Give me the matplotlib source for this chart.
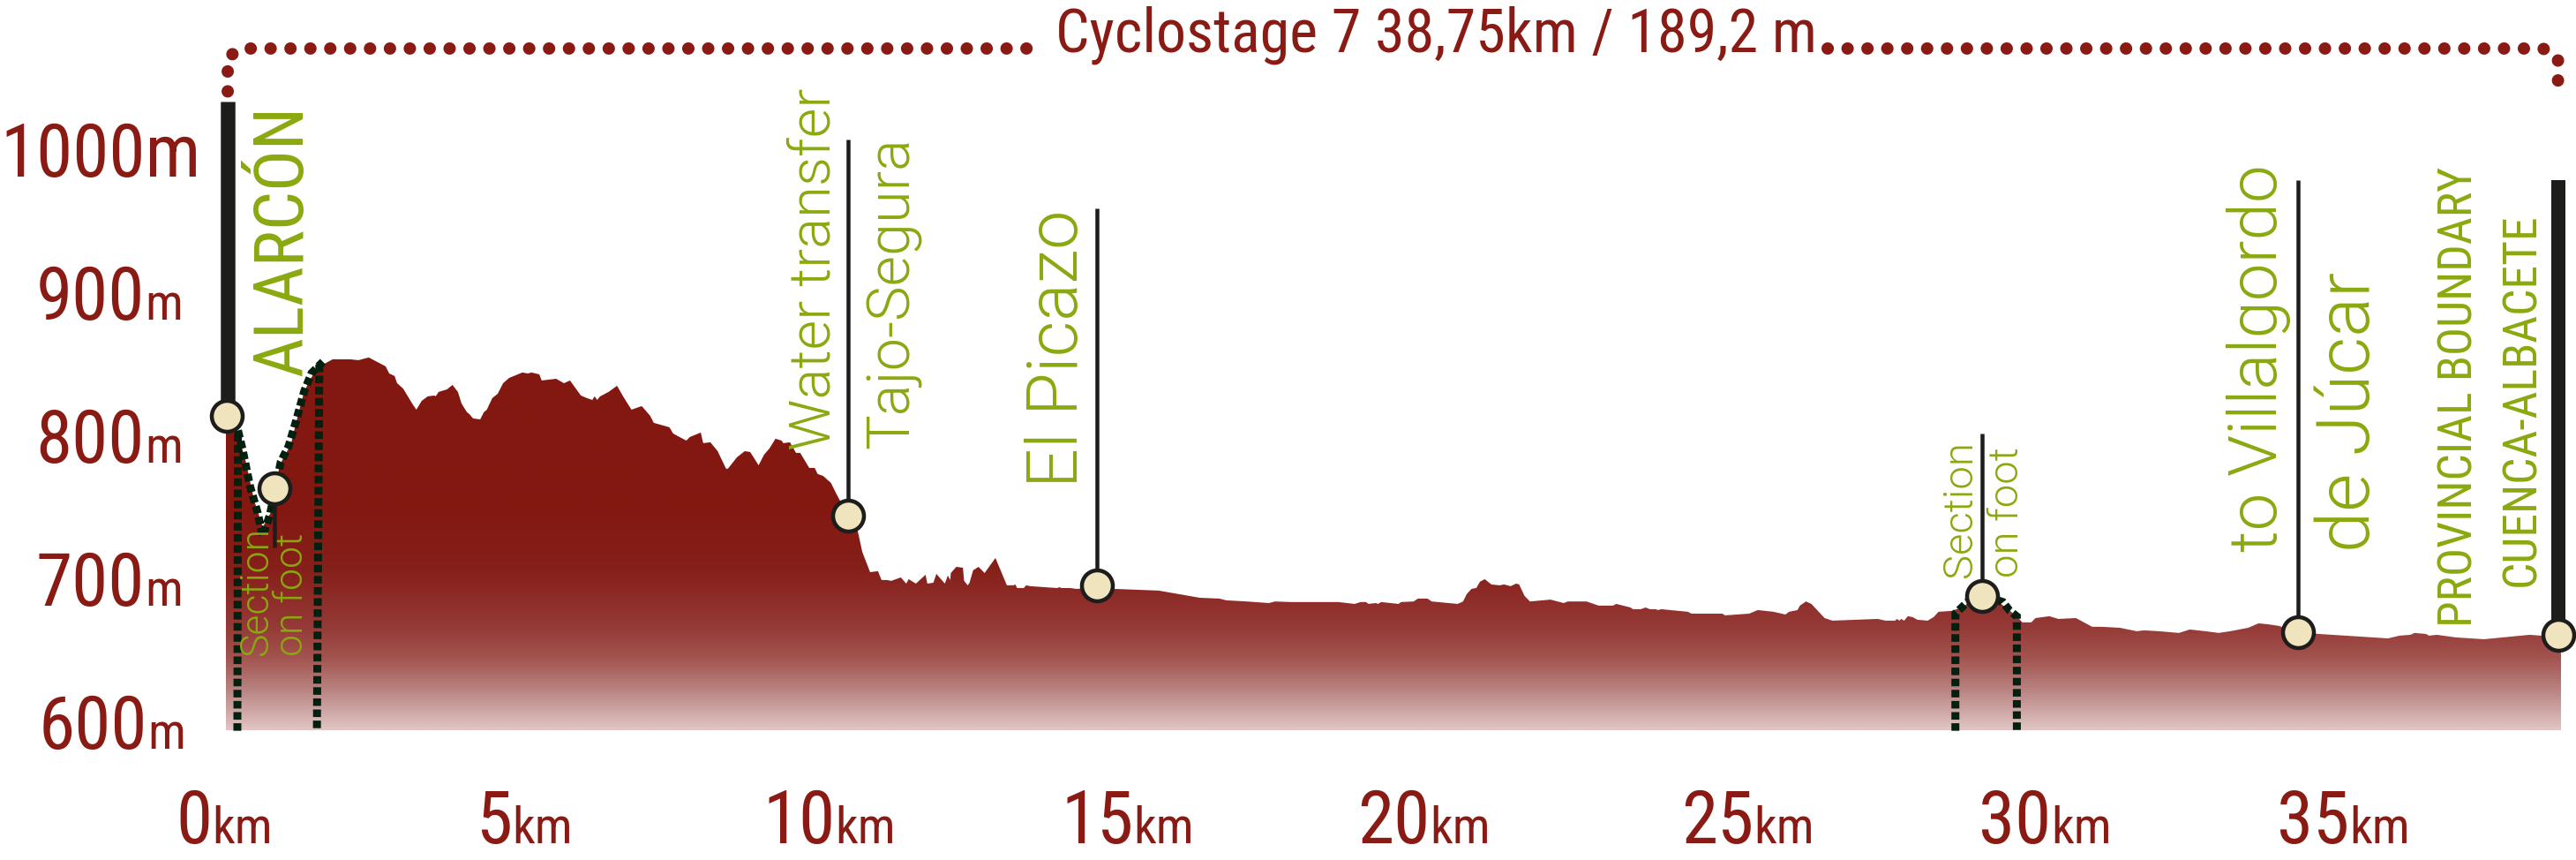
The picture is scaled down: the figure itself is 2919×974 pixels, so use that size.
import matplotlib
matplotlib.use("Agg")
import matplotlib.pyplot as plt
import numpy as np
from matplotlib.colors import LinearSegmentedColormap

W, H = 2919, 974
DPI = 100
PX = 72 / DPI  # points per pixel

# ---- data ----
profile_km = [0, .19, .32, .47, .61, .75, .89, 1.08, 1.16, 1.30, 1.48, 1.61, 1.77, 2.06, 2.20, 2.37, 2.65, 2.71, 2.80, 2.84,
              2.94, 3.10, 3.16, 3.25, 3.35, 3.46, 3.48, 3.53, 3.67, 3.76, 3.85, 3.91, 4.00, 4.04, 4.10, 4.22, 4.28, 4.33, 4.42, 4.51,
              4.60, 4.70, 4.92, 5.01, 5.07, 5.20, 5.24, 5.48, 5.61, 5.71, 5.89, 5.99, 6.08, 6.12, 6.16, 6.21, 6.35, 6.49, 6.60, 6.73,
              6.90, 7.04, 7.10, 7.36, 7.42, 7.50, 7.64, 7.70, 7.88, 7.92, 8.04, 8.16, 8.30, 8.33, 8.48, 8.61, 8.70, 8.84, 8.93, 9.02,
              9.12, 9.22, 9.25, 9.36, 9.46, 9.53, 9.68, 9.77, 9.82, 9.91, 10.04, 10.12, 10.32, 10.48, 10.56, 10.69, 10.82, 10.88, 10.97, 11.04,
              11.20, 11.29, 11.33, 11.45, 11.61, 11.64, 11.74, 11.79, 11.93, 11.98, 12.02, 12.03, 12.12, 12.23, 12.25, 12.31, 12.34, 12.40, 12.49, 12.59,
              12.77, 12.96, 13.07, 13.10, 13.13, 13.24, 13.28, 13.35, 13.79, 13.84, 13.86, 14.01, 14.11, 14.45, 14.74, 15.48, 16.16, 16.49, 16.60, 16.94,
              17.31, 17.41, 17.67, 18.46, 18.73, 18.83, 18.92, 18.96, 19.08, 19.12, 19.17, 19.46, 19.50, 19.71, 19.78, 19.94, 20.01, 20.44, 20.53, 20.59,
              20.67, 20.75, 20.81, 20.89, 21.00, 21.14, 21.21, 21.32, 21.41, 21.46, 21.55, 21.64, 21.98, 22.20, 22.27, 22.58, 22.78, 23.02, 23.07, 23.31,
              23.35, 23.48, 23.56, 23.63, 23.73, 23.76, 23.82, 24.26, 24.32, 24.83, 24.88, 25.28, 25.42, 25.68, 25.88, 25.94, 26.08, 26.12, 26.22, 26.31,
              26.53, 26.66, 27.41, 27.54, 27.70, 27.73, 27.77, 27.80, 27.85, 27.91, 27.99, 28.07, 28.24, 28.34, 28.42, 28.64, 28.80, 29.15, 29.44, 29.72,
              29.81, 29.96, 30.03, 30.26, 30.41, 30.70, 30.97, 31.13, 31.43, 31.71, 31.83, 32.08, 32.41, 32.59, 32.85, 33.07, 33.26, 33.56, 33.73, 33.88,
              34.07, 34.38, 34.73, 35.88, 36.07, 36.25, 36.32, 36.51, 36.56, 36.69, 37.00, 37.47, 38.23, 38.42, 38.75]
profile_m = [814.2, 802.5, 784, 754.9, 736.4, 746.9, 779.6, 794.5, 808.7, 831.5, 845.7, 850, 853.7, 853.7, 853.1, 855, 848.8, 843.8, 842, 837,
             833.3, 822.2, 818.5, 824.7, 827.8, 828.4, 827.8, 830.9, 832.7, 835.8, 830.9, 822.8, 816.7, 815.4, 812.4, 811.7, 816.7, 818.5, 826.6, 829.6,
             837, 840.7, 844.5, 843.8, 844.5, 843.2, 838.9, 840.1, 837, 838.9, 828.4, 826.6, 825.3, 827.8, 825.3, 827.8, 830.9, 835.2, 827.2, 818.5,
             821, 814.2, 809.3, 806.2, 801.9, 800, 796.9, 799.4, 802.5, 795.1, 795.7, 789.5, 777.2, 777.2, 785.2, 789.5, 788.9, 779.6, 787, 791.4,
             798.2, 796.9, 795.1, 795.7, 788.3, 788.3, 777.8, 777.8, 773.5, 772.2, 767.3, 760.5, 744.5, 734.6, 719.1, 704.9, 705.6, 699.4, 699.4, 698.8,
             701.2, 696.9, 700, 696.9, 703.1, 696.9, 697.5, 703.7, 696.9, 702.5, 699.4, 704.3, 708.6, 708, 698.8, 695.7, 697.5, 706.2, 708.6, 704.3,
             714.8, 695.7, 695.7, 696.3, 693.8, 693.8, 695.7, 695.1, 693.8, 694.4, 693.8, 693.8, 693.2, 694, 693.2, 692, 687, 686.4, 685.2, 684.4,
             683.3, 684.4, 684, 684, 682.7, 684, 684, 682.7, 683.3, 682.7, 684, 682.7, 684, 684.4, 686.4, 686.4, 684.4, 682.7, 684.4, 689.5,
             693.2, 693.8, 698.2, 700, 696.3, 695.7, 696.3, 695.1, 696.9, 696.3, 688.3, 684.4, 685.7, 683.3, 684.4, 684.4, 681.5, 681.5, 682.7, 680.2,
             679, 679, 680.2, 679, 679, 678.4, 679, 677.2, 675.9, 675.9, 674.7, 675.9, 678.4, 677.2, 675.3, 677.2, 678.4, 681.5, 684.4, 682.7,
             672.8, 671, 672.2, 671, 671, 672.2, 671, 672.2, 671, 674.1, 673.5, 671.6, 671, 673.5, 677.2, 677.8, 680.2, 689.5, 683.3, 674.1,
             669.8, 669.8, 672.8, 674.1, 672.2, 672.8, 666.7, 666.7, 666, 663.6, 664.2, 663.6, 662.4, 664.8, 663.6, 662.4, 663.6, 666, 669.1, 668.5,
             667.3, 663, 661.7, 658.6, 660.5, 661.1, 662.4, 661.7, 660.5, 661.1, 659.3, 658, 661.1, 660.5, 660]

stop_km = [0.01, 0.81, 10.32, 14.45, 29.15, 34.38, 38.70]
stop_m = [814, 763.6, 744.5, 695.7, 688.3, 663, 661.1]
stop_line_km = [0.03, 0.81, 10.32, 14.45, 29.15, 34.38, 38.70]
stop_line_end_m = [1034, 722, 1007.4, 959.3, 801.9, 979, 979]
stop_line_px = [16.5, 4.5, 4.5, 4.5, 4.5, 4.5, 16]

foot1_km = [0.19, 0.20, 0.28, 0.40, 0.53, 0.61, 0.73, 0.91, 1.04, 1.16, 1.30, 1.42, 1.61]
foot1_m = [594, 804, 790, 765, 746, 730, 745, 782, 793, 810, 831.5, 844, 852]
foot1b_km = [1.55, 1.51]
foot1b_m = [850, 594]
foot2_km = [28.70, 28.70, 28.80, 29.05, 29.49, 29.60, 29.72, 29.72]
foot2_m = [594, 676, 680, 690, 684, 678, 674, 594]

bracket_left_km = [0.03, 0.03, 0.26, 13.40]
bracket_right_km = [26.58, 38.45, 38.70, 38.70]
bracket_left_m = [1041, 1065, 1071, 1071]
bracket_right_m = [1071, 1071, 1065, 1041]

title = "Cyclostage 7 38,75km / 189,2 m"
xtick_values = ["0", "5", "10", "15", "20", "25", "30", "35"]
xtick_label_km = [-0.03, 4.95, 10.01, 14.96, 19.88, 25.26, 30.19, 35.14]
ytick_values = [600, 700, 800, 900, 1000]
ytick_units_big = [False, False, False, False, True]
ytick_label_km = [-1.89, -1.94, -1.94, -1.94, -2.08]

grad_m = [594.4, 623.5, 644, 665, 683, 705.6, 750, 1072]
grad_c = ["#e0c3c3", "#b67f7d", "#a35450", "#953b38", "#8f2e2a", "#86201a", "#831811", "#831811"]

RED = "#8a1a14"
GREEN = "#8aa80f"
BLACK = "#1d1d1b"
CREAM = "#f0e4bf"
DARKG = "#02200f"

NARROW = ["Roboto Condensed", "Liberation Sans"]
LIGHT = ["Roboto", "Liberation Sans"]

fig = plt.figure(figsize=(W / DPI, H / DPI), dpi=DPI, facecolor="white")
left, right, bottom_y, top_y = 256, 2902, 827, 53
ax = fig.add_axes([left / W, 1 - bottom_y / H, (right - left) / W, (bottom_y - top_y) / H])
ax.set_xlim(0, 38.75)
ax.set_ylim(594.4, 1072.2)
ax.axis("off")

# area with vertical gradient
lo, hi = grad_m[0], grad_m[-1]
pos = [(g - lo) / (hi - lo) for g in grad_m]
cmap = LinearSegmentedColormap.from_list("elev", list(zip(pos, grad_c)))
poly = ax.fill_between(profile_km, profile_m, lo, color="none", lw=0, zorder=1)
im = ax.imshow(np.linspace(0, 1, 800)[:, None], origin="lower", extent=[0, 38.75, lo, hi],
               cmap=cmap, aspect="auto", zorder=1, vmin=0, vmax=1)
im.set_clip_path(poly.get_paths()[0], ax.transData)
ax.set_xlim(0, 38.75)
ax.set_ylim(594.4, 1072.2)

# on-foot sections
dash = dict(color=DARKG, lw=9 * PX, ls=(0, (0.95, 0.45)), dash_capstyle="butt", dash_joinstyle="miter", zorder=2, clip_on=False)
ax.plot(foot1_km, foot1_m, **dash)
ax.plot(foot1b_km, foot1b_m, **dash)
ax.plot(foot2_km, foot2_m, **dash)

# stops
for k, m, kl, e, w in zip(stop_km, stop_m, stop_line_km, stop_line_end_m, stop_line_px):
    ax.plot([kl, kl], [m, e], color=BLACK, lw=w * PX, solid_capstyle="butt", zorder=4, clip_on=False)
ax.plot(stop_km, stop_m, ls="none", marker="o", ms=35 * PX, mfc=CREAM, mec=BLACK, mew=4.5 * PX, zorder=5, clip_on=False)

# bracket
dots = dict(color=RED, lw=14 * PX, ls=(0, (0.01, 1.6)), dash_capstyle="round", zorder=2, clip_on=False)
ax.plot(bracket_left_km, bracket_left_m, **dots)
ax.plot(bracket_right_km, bracket_right_m, **dots)

def px_x(px):
    return (px - left) / (right - left) * 38.75

def px_y(py):
    return 594.4 + (bottom_y - py) / (bottom_y - top_y) * (1072.2 - 594.4)

ax.text(px_x(1627), px_y(59), title, color=RED, family=NARROW, fontsize=49, ha="center", va="baseline", clip_on=False)

renderer = fig.canvas.get_renderer()

def mixed(xkm, ym, big, small, dy_px, big_fs=60, small_fs=41):
    bt = ax.annotate(big, (xkm, ym), xytext=(0, dy_px * PX), textcoords="offset points", color=RED, family=NARROW,
                     fontsize=big_fs, ha="left", va="baseline", annotation_clip=False)
    wb = bt.get_window_extent(renderer).width
    ws = 0
    st = None
    if small:
        st = ax.annotate(small, (xkm, ym), xytext=(0, dy_px * PX), textcoords="offset points", color=RED, family=NARROW,
                         fontsize=small_fs, ha="left", va="baseline", annotation_clip=False)
        ws = st.get_window_extent(renderer).width
    total = wb + ws
    bt.set_position((-total / 2 * PX, dy_px * PX))
    if st is not None:
        st.set_position(((-total / 2 + wb) * PX, dy_px * PX))

for v, big, kx in zip(ytick_values, ytick_units_big, ytick_label_km):
    if big:
        mixed(kx, v, f"{v}m", "", -30)
    else:
        mixed(kx, v, f"{v}", "m", -30)

for lab, kx in zip(xtick_values, xtick_label_km):
    mixed(kx, 594.4, lab, "km", -128)

def vtext(s, x_right, y_bottom, fs, family=LIGHT, weight=300):
    ax.text(px_x(x_right), px_y(y_bottom), s, rotation=90, color=GREEN, family=family, weight=weight, fontsize=fs,
            ha="right", va="bottom", clip_on=False, zorder=3)

vtext("ALARCÓN", 358, 426, 56, NARROW, 400)
vtext("Water transfer", 953, 510, 47)
vtext("Tajo-Segura", 1044, 508, 48)
vtext("El Picazo", 1238, 552, 57)
vtext("Section", 312, 743, 32)
vtext("on foot", 352, 743, 32)
vtext("Section", 2243, 654, 34)
vtext("on foot", 2296, 654, 34)
vtext("to Villalgordo", 2596, 625, 55)
vtext("de Júcar", 2702, 625, 60)
vtext("PROVINCIAL BOUNDARY", 2813, 710, 38.5, NARROW, 400)
vtext("CUENCA-ALBACETE", 2883, 664, 38.5, NARROW, 400)

fig.savefig("out.png", dpi=DPI, facecolor="white")
